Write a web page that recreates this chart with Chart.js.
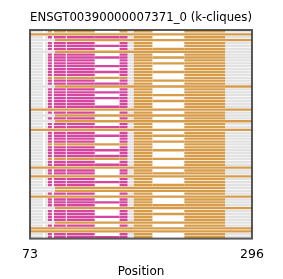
<!DOCTYPE html>
<html>
<head>
<meta charset="utf-8">
<script src="https://cdn.jsdelivr.net/npm/chart.js@4"></script>
<style>
  html, body { margin: 0; padding: 0; background: #fff; }
  #wrap { width: 283px; height: 279px; }
</style>
</head>
<body>
<div id="wrap"><canvas id="myChart"></canvas></div>
<script>
// x range and the two tick labels
var xMin = 73;
var xMax = 296;
var tickValues = [73, 296];

// one code per row, top to bottom
// M = magenta clique row, o = same exons in orange, O = orange all the way,
// P = orange from ~98 to 269, Q = orange from ~98 to the end
var rowTypes = [
    'o','O','M','Q','M','M','M','P',
    'M','M','M','M','M','M','M','M',
    'o','M','M','Q',
    'M','M','M','M','M','M','M',
    'O','M','P','M','Q','M','M',
    'O','M','M','M','M',
    'o','M','M','M','M',
    'o','M','M',
    'O','M','M',
    'O','M','M','M',
    'P','P','M','O',
    'M','M','M','Q',
    'M','M','M','M',
    'P','M','O','O','M','M'
];

// 1 = white hole between 138 and 163 (magenta part)
var gapMid = [
    1,0,0,0,1,0,1,0, 1,0,1,1,0,1,0,1,
    0,1,0,0, 1,0,1,0,1,1,0,
    0,1,0,1,0,1,0, 0,1,0,1,1,
    0,1,0,1,0, 0,1,0, 0,1,1,
    0,1,0,1, 0,0,1,0, 1,0,1,0,
    1,1,0,1, 0,1,0,0,1,0
];

// 1 = white hole between 196 and 228 (orange part)
var gapRight = [
    1,0,1,0,1,1,0,0, 1,0,1,0,1,1,0,1,
    1,0,1,0, 1,1,0,1,0,1,1,
    0,1,0,1,0,1,1, 0,1,0,1,0,
    1,1,0,1,1, 0,1,1, 0,1,0,
    0,1,1,0, 0,0,1,0, 1,1,0,0,
    1,0,1,1, 0,1,0,0,1,1
];

// exon slots [start, end] along the position axis
var slots = [[73, 86], [88, 91], [91, 95], [97, 109], [110, 138], [138, 163],
             [163, 171], [171, 177], [177, 196], [196, 228], [228, 269], [269, 296]];

var GRAY = '#e2e2e2';
var MAGENTA = '#d5469f';
var ORANGE = '#d69c4a';

// colour for every slot of one row, or null when the slot is empty
function rowSegments(type, gm, gr) {
    if (type === 'O') {
        return [[73, 296, ORANGE]];
    }
    if (type === 'P') {
        return [[73, 98, GRAY], [98, 269, ORANGE], [269, 296, GRAY]];
    }
    if (type === 'Q') {
        return [[73, 98, GRAY], [98, 296, ORANGE]];
    }
    var c = type === 'M' ? MAGENTA : ORANGE;
    var cols = [GRAY, GRAY, c, c, c, gm ? null : c, c, GRAY, ORANGE, gr ? null : ORANGE, ORANGE, GRAY];
    var out = [];
    for (var i = 0; i < slots.length; i++) {
        if (cols[i]) out.push([slots[i][0], slots[i][1], cols[i]]);
    }
    return out;
}

var labels = [];
var datasets = [];
for (var s = 0; s < slots.length; s++) {
    datasets.push({
        data: [],
        backgroundColor: [],
        borderWidth: 0,
        grouped: false,
        barPercentage: 0.8,
        categoryPercentage: 1
    });
}

for (var r = 0; r < rowTypes.length; r++) {
    labels.push('row' + r);
    var segs = rowSegments(rowTypes[r], gapMid[r], gapRight[r]);
    for (var k = 0; k < slots.length; k++) {
        if (k < segs.length) {
            datasets[k].data.push([segs[k][0], segs[k][1]]);
            datasets[k].backgroundColor.push(segs[k][2]);
        } else {
            datasets[k].data.push(null);
            datasets[k].backgroundColor.push(GRAY);
        }
    }
}

// dark frame round the plot area
var framePlugin = {
    id: 'frame',
    afterDatasetsDraw: function(chart) {
        var a = chart.chartArea;
        var ctx = chart.ctx;
        ctx.save();
        ctx.strokeStyle = 'rgba(60, 60, 60, 0.85)';
        ctx.lineWidth = 2;
        ctx.strokeRect(a.left, a.top, a.right - a.left, a.bottom - a.top);
        ctx.restore();
    }
};

Chart.defaults.font.family = 'DejaVu Sans';
Chart.defaults.color = '#000';

var ctx = document.getElementById('myChart').getContext('2d');
var myChart = new Chart(ctx, {
    type: 'bar',
    data: {
        labels: labels,
        datasets: datasets
    },
    options: {
        indexAxis: 'y',
        responsive: true,
        maintainAspectRatio: false,
        animation: false,
        layout: {
            padding: { left: 30, right: 31, top: 0, bottom: 0 }
        },
        plugins: {
            legend: { display: false },
            tooltip: { enabled: false },
            title: {
                display: true,
                text: 'ENSGT00390000007371_0 (k-cliques)',
                font: { size: 12.5, weight: 'normal' },
                color: '#000',
                padding: { top: 10, bottom: 5 }
            }
        },
        scales: {
            x: {
                type: 'linear',
                min: xMin,
                max: xMax,
                afterBuildTicks: function(axis) {
                    axis.ticks = tickValues.map(function(v) { return { value: v }; });
                },
                grid: { display: false },
                border: { display: false },
                ticks: {
                    font: { size: 12.5 },
                    padding: 1,
                    maxRotation: 0,
                    autoSkip: false
                },
                title: {
                    display: true,
                    text: 'Position',
                    font: { size: 12 },
                    padding: { top: 1, bottom: 0 }
                }
            },
            y: {
                display: false,
                offset: true
            }
        }
    },
    plugins: [framePlugin]
});
</script>
</body>
</html>
